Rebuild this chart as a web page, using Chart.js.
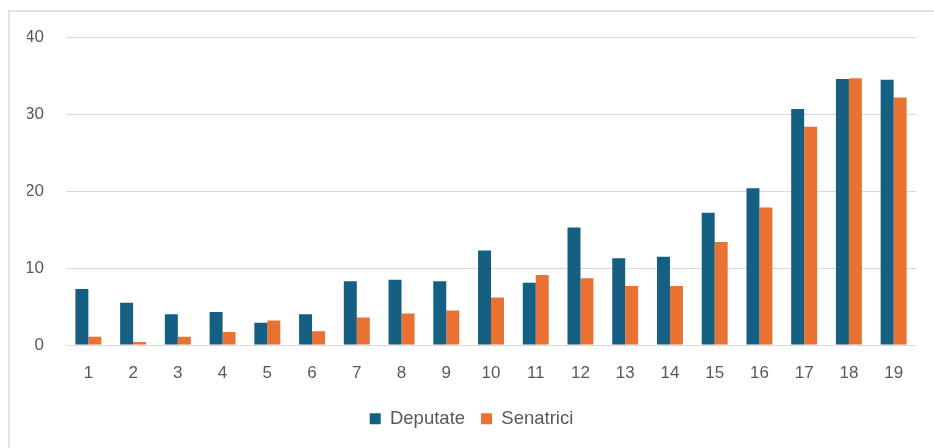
<!DOCTYPE html>
<html>
<head>
<meta charset="utf-8">
<script src="https://cdn.jsdelivr.net/npm/chart.js@4"></script>
<style>
    html, body { margin: 0; padding: 0; background: #fff; overflow: hidden; }
    #wrap { position: relative; width: 934px; height: 448px; }
    #frame { position: absolute; left: 8px; top: 10px; width: 1000px; height: 500px;
             border-left: 2px solid #e2e2e2; border-top: 2px solid #e2e2e2; }
    canvas { position: absolute; left: 0; top: 0; }
</style>
</head>
<body>
<div id="wrap">
    <div id="frame"></div>
    <canvas id="chart" width="934" height="448"></canvas>
</div>
<script>
// legislature numbers
const categories = ['1','2','3','4','5','6','7','8','9','10','11','12','13','14','15','16','17','18','19'];
// share of women, %
const deputate  = [7.3, 5.5, 4.0, 4.3, 2.9, 4.0, 8.3, 8.5, 8.3, 12.3, 8.1, 15.3, 11.3, 11.5, 17.2, 20.4, 30.7, 34.6, 34.5];
const senatrici = [1.1, 0.4, 1.1, 1.7, 3.2, 1.8, 3.6, 4.1, 4.5, 6.2, 9.1, 8.7, 7.7, 7.7, 13.4, 17.9, 28.4, 34.7, 32.2];
const yTicks = [0, 10, 20, 30, 40];

const BLUE = '#156082';
const ORANGE = '#E97132';
const TEXT = '#595959';
const FONT = "'Liberation Sans', Arial, sans-serif";

new Chart(document.getElementById('chart'), {
    type: 'bar',
    data: {
        labels: categories,
        datasets: [
            { label: 'Deputate', data: deputate, backgroundColor: BLUE, barPercentage: 1, categoryPercentage: 0.58 },
            { label: 'Senatrici', data: senatrici, backgroundColor: ORANGE, barPercentage: 1, categoryPercentage: 0.58 }
        ]
    },
    options: {
        responsive: false,
        animation: false,
        layout: { padding: { left: 27, right: 18, top: 37.5, bottom: 10 } },
        plugins: {
            tooltip: { enabled: false },
            legend: {
                position: 'bottom',
                labels: {
                    boxWidth: 11,
                    boxHeight: 11,
                    padding: 16,
                    color: TEXT,
                    font: { family: FONT, size: 18.5 }
                }
            }
        },
        scales: {
            x: {
                grid: { display: false },
                border: { display: false },
                ticks: { color: TEXT, padding: 10, font: { family: FONT, size: 17 } }
            },
            y: {
                min: 0,
                max: 40,
                afterBuildTicks: axis => { axis.ticks = yTicks.map(v => ({ value: v })); },
                afterFit: axis => { axis.width = 39; },
                grid: { color: '#d9d9d9', drawTicks: false },
                border: { display: false },
                ticks: { color: TEXT, padding: 22, font: { family: FONT, size: 17 } }
            }
        }
    }
});
</script>
</body>
</html>
